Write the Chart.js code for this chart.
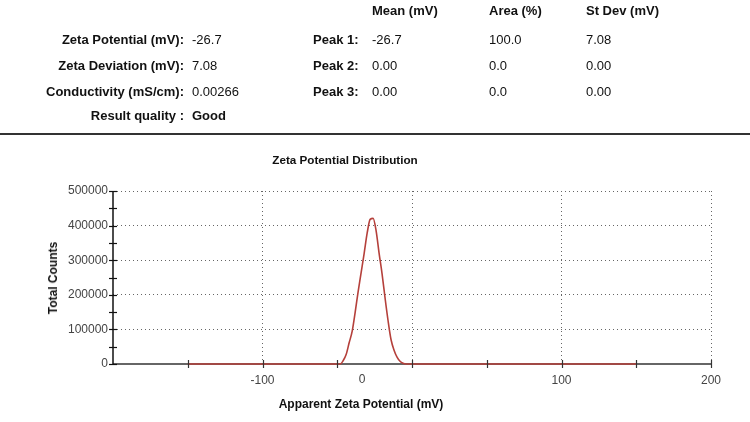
<!DOCTYPE html>
<html>
<head>
<meta charset="utf-8">
<script src="https://cdn.jsdelivr.net/npm/chart.js@4/dist/chart.umd.min.js"></script>
<style>
  html, body { margin:0; padding:0; background:#fff; }
  body { width:750px; height:422px; position:relative; overflow:hidden; font-family:"Liberation Sans", Arial, sans-serif; color:#111; }
  #c { position:absolute; left:0; top:0; }
  .t { position:absolute; font-size:13px; line-height:16px; white-space:nowrap; }
  .b { font-weight:bold; }
  #rule { position:absolute; left:0; top:133px; width:750px; height:2px; background:#333; }
  .ttl { position:absolute; font-weight:bold; font-size:12px; line-height:14px; white-space:nowrap; color:#111; }
</style>
</head>
<body>
<canvas id="c" width="750" height="422"></canvas>
<div id="hdr"></div>
<div id="rule"></div>
<div class="ttl" style="left:245px; width:200px; text-align:center; top:153px; font-size:11.7px;">Zeta Potential Distribution</div>
<div class="ttl" style="left:211px; width:300px; text-align:center; top:397px;">Apparent Zeta Potential (mV)</div>
<div class="ttl" style="left:53px; top:278px; transform:translate(-50%,-50%) rotate(-90deg);">Total Counts</div>
<script>
// ---- summary table data ----
const summaryLabels = ["Zeta Potential (mV):", "Zeta Deviation (mV):", "Conductivity (mS/cm):", "Result quality :"];
const summaryValues = ["-26.7", "7.08", "0.00266", "Good"];
const peakHeaders = ["Mean (mV)", "Area (%)", "St Dev (mV)"];
const peakLabels = ["Peak 1:", "Peak 2:", "Peak 3:"];
const peakMeans = ["-26.7", "0.00", "0.00"];
const peakAreas = ["100.0", "0.0", "0.0"];
const peakStDevs = ["7.08", "0.00", "0.00"];

// ---- chart data ----
const zetaValues = [-150, -48, -46, -44, -42, -40, -38, -36, -34, -32, -30, -28, -26, -24, -22, -20, -18, -16, -14, -12, -10, -8, -6, -4, 150];
const totalCounts = [0, 0, 10000, 28000, 62000, 95000, 150000, 210000, 265000, 320000, 378000, 418000, 421000, 385000, 320000, 260000, 190000, 125000, 70000, 40000, 20000, 8000, 2000, 0, 0];
const xTickValues = [-200, -150, -100, -50, 0, 50, 100, 150, 200];
const xTickLabels = ["", "", "-100", "", "0", "", "100", "", "200"];
const yTickValues = [0, 50000, 100000, 150000, 200000, 250000, 300000, 350000, 400000, 450000, 500000];

// build header table
(function(){
  const hdr = document.getElementById('hdr');
  function add(txt, x, yc, cls, right) {
    const d = document.createElement('div');
    d.className = 't ' + (cls||'');
    d.textContent = txt;
    d.style.top = (yc - 8) + 'px';
    if (right) { d.style.right = (750 - x) + 'px'; d.style.textAlign = 'right'; }
    else d.style.left = x + 'px';
    hdr.appendChild(d);
  }
  const rowY = [40, 66, 92, 116];
  summaryLabels.forEach((s,i)=>add(s, 184, rowY[i], 'b', true));
  summaryValues.forEach((s,i)=>add(s, 192, rowY[i], i===3?'b':''));
  const colX = [372, 489, 586];
  peakHeaders.forEach((s,i)=>add(s, colX[i], 11, 'b'));
  peakLabels.forEach((s,i)=>add(s, 313, rowY[i], 'b'));
  peakMeans.forEach((s,i)=>add(s, colX[0], rowY[i]));
  peakAreas.forEach((s,i)=>add(s, colX[1], rowY[i]));
  peakStDevs.forEach((s,i)=>add(s, colX[2], rowY[i]));
})();

const axisLines = {
  id: 'axisLines',
  beforeDatasetsDraw(chart) {
    const ctx = chart.ctx, xs = chart.scales.x, ys = chart.scales.y;
    ctx.save();
    ctx.setLineDash([]);
    ctx.lineWidth = 1.5;
    ctx.strokeStyle = '#333';
    ctx.beginPath(); ctx.moveTo(xs.left, ys.bottom); ctx.lineTo(xs.right, ys.bottom); ctx.stroke();
    ctx.strokeStyle = '#111';
    ctx.beginPath(); ctx.moveTo(xs.left, ys.top); ctx.lineTo(xs.left, ys.bottom); ctx.stroke();
    ctx.restore();
  },
  afterDraw(chart) {
    const ctx = chart.ctx, xs = chart.scales.x, ys = chart.scales.y;
    const x0 = xs.left, yb = ys.bottom;
    ctx.save();
    ctx.setLineDash([]);
    ctx.lineWidth = 1.2;
    ctx.strokeStyle = '#111';
    yTickValues.forEach(v => {
      const p = Math.round(ys.getPixelForValue(v)) + 0.5;
      ctx.beginPath(); ctx.moveTo(x0 - 4, p); ctx.lineTo(x0 + 4, p); ctx.stroke();
    });
    ctx.strokeStyle = '#333';
    xTickValues.slice(1).forEach(v => {
      const p = Math.round(xs.getPixelForValue(v)) + 0.5;
      ctx.beginPath(); ctx.moveTo(p, yb - 4); ctx.lineTo(p, yb + 4); ctx.stroke();
    });
    // the "0" tick label of the x axis sits left of its tick in the reference
    ctx.fillStyle = '#444';
    ctx.font = '12px "Liberation Sans", Arial, sans-serif';
    ctx.textAlign = 'center';
    ctx.textBaseline = 'middle';
    ctx.fillText('0', xs.getPixelForValue(0) - 50, yb + 16);
    ctx.restore();
  }
};

const dotted = [1, 3];
new Chart(document.getElementById('c'), {
  type: 'line',
  data: {
    datasets: [{
      data: zetaValues.map((x,i)=>({x, y: totalCounts[i]})),
      borderColor: '#b5403b',
      borderWidth: 1.6,
      pointRadius: 0,
      fill: false,
      cubicInterpolationMode: 'monotone',
      clip: 6
    }]
  },
  plugins: [axisLines],
  options: {
    responsive: false,
    animation: false,
    events: [],
    layout: { padding: { left: 0, right: 39, top: 191, bottom: 0 } },
    plugins: { legend: { display: false }, title: { display: false }, tooltip: { enabled: false } },
    scales: {
      x: {
        type: 'linear', min: -200, max: 200,
        afterBuildTicks: s => { s.ticks = xTickValues.map(v => ({value: v})); },
        afterFit: s => { s.height = 58; },
        ticks: {
          padding: 9, color: '#444', maxRotation: 0, autoSkip: false,
          font: { family: '"Liberation Sans", Arial, sans-serif', size: 12 },
          callback: (v) => { const i = xTickValues.indexOf(v); return (i >= 0 && v !== 0) ? xTickLabels[i] : ''; }
        },
        grid: {
          drawTicks: false,
          color: c => (c.tick && [-100, 0, 100, 200].includes(c.tick.value)) ? '#666' : 'rgba(0,0,0,0)',
          lineWidth: 1,
          borderDash: dotted
        },
        border: { display: false, dash: dotted }
      },
      y: {
        type: 'linear', min: 0, max: 500000,
        afterBuildTicks: s => { s.ticks = yTickValues.map(v => ({value: v})); },
        afterFit: s => { s.width = 113; },
        ticks: {
          padding: 5, color: '#444', autoSkip: false,
          font: { family: '"Liberation Sans", Arial, sans-serif', size: 12 },
          callback: v => (v % 100000 === 0) ? String(v) : ''
        },
        grid: {
          drawTicks: false,
          color: c => (c.tick && c.tick.value > 0 && c.tick.value % 100000 === 0) ? '#666' : 'rgba(0,0,0,0)',
          lineWidth: 1,
          borderDash: dotted
        },
        border: { display: false, dash: dotted }
      }
    }
  }
});
</script>
</body>
</html>
